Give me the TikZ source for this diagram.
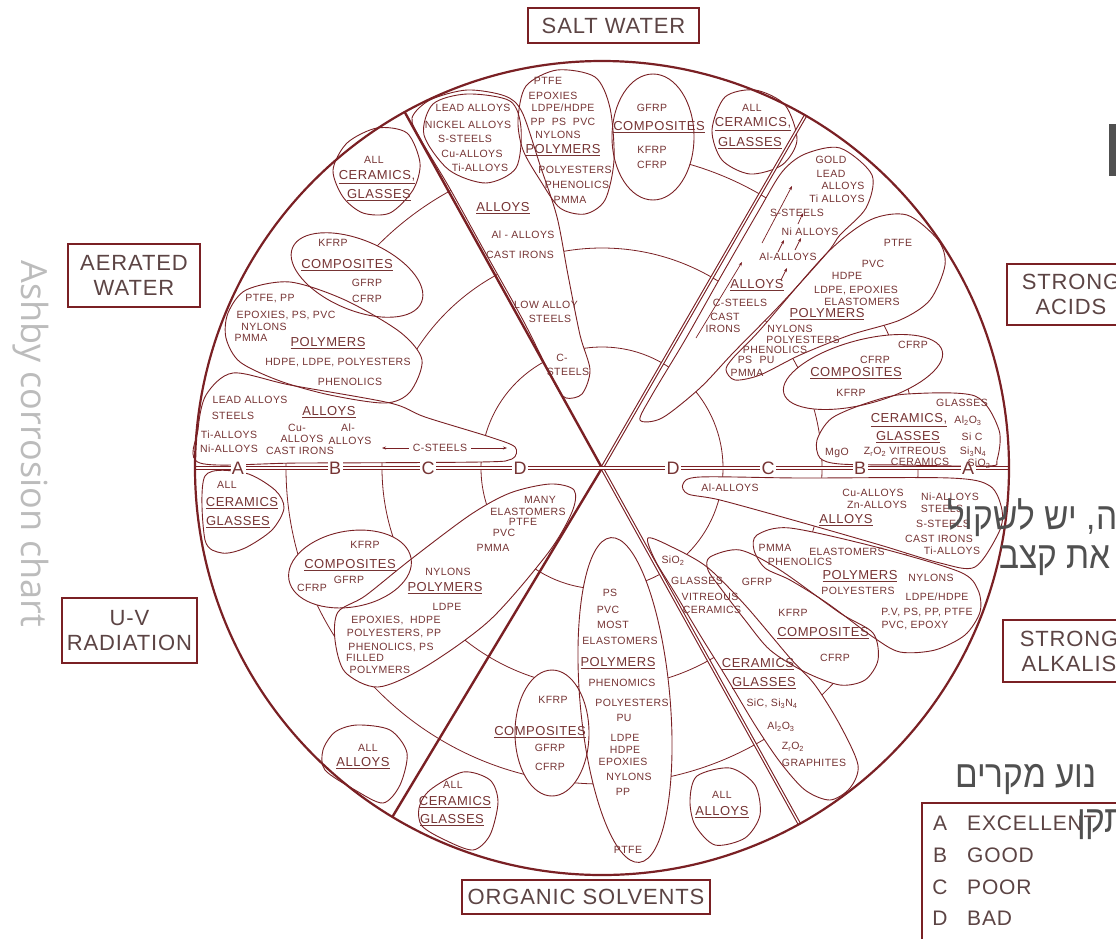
\documentclass[tikz,border=0pt]{standalone}
\usepackage{fontspec}
\setmainfont{Liberation Sans}[LetterSpace=4]
\newfontfamily\hebfont[Script=Hebrew]{Liberation Sans}
\newfontfamily\osans{Open Sans}
\TeXXeTstate=1
\usetikzlibrary{arrows.meta}
\definecolor{ink}{RGB}{122,32,36}
\definecolor{txt}{RGB}{118,52,52}
\definecolor{boxtxt}{RGB}{92,68,68}
\definecolor{hebgray}{RGB}{80,80,80}
\definecolor{sidegray}{RGB}{188,188,188}
\newcommand{\myul}[1]{\underline{#1}}
\newcommand{\sbs}[1]{\textsubscript{#1}}
\newcommand{\hebline}[1]{\scalebox{0.88}[1]{\beginR #1\endR}}
% bubble outlines
\newcommand\bTal{plot[smooth cycle] coordinates {(412,118) (430,100) (467,90) (505,96) (522,112) (540,165) (557,217) (568,275) (580,335) (590,370) (582,394) (566,398) (556,386) (524,322) (485,252) (449,187) (421,140)}}
\newcommand\bTlead{plot[smooth cycle] coordinates {(424,135) (433,104) (467,94) (510,101) (521,128) (516,168) (486,183) (449,170)}}
\newcommand\bTpol{plot[smooth cycle] coordinates {(518,120) (526,86) (557,70) (595,77) (610,108) (614,160) (605,200) (585,214) (560,208) (540,180) (523,150)}}
\newcommand\bTcer{plot[smooth cycle] coordinates {(712,130) (725,97) (755,90) (785,105) (797,140) (782,165) (750,174) (722,160)}}
\newcommand\bULcer{plot[smooth cycle] coordinates {(333,170) (347,143) (377,128) (407,133) (420,163) (413,190) (390,213) (363,213) (343,197)}}
\newcommand\bULpol{plot[smooth cycle] coordinates {(228,313) (246,290) (290,282) (345,300) (400,332) (422,360) (410,392) (385,403) (330,395) (280,381) (240,362) (226,338)}}
\newcommand\bULal{plot[smooth cycle] coordinates {(198,430) (206,395) (233,373) (290,385) (390,403) (425,417) (490,437) (515,447) (512,459) (480,462) (300,463) (200,463)}}
\newcommand\bURal{plot[smooth cycle] coordinates {(640,420) (652,395) (685,340) (720,278) (758,212) (782,172) (805,154) (840,148) (872,175) (866,208) (840,235) (827,253) (780,305) (733,353) (700,388) (662,418)}}
\newcommand\bURpol{plot[smooth cycle] coordinates {(733,358) (760,330) (827,253) (870,220) (907,215) (938,240) (945,265) (930,300) (900,320) (850,335) (800,355) (760,375) (735,380) (726,370)}}
\newcommand\bURcer{plot[smooth cycle] coordinates {(817,440) (832,418) (870,402) (907,394) (975,396) (999,430) (997,460) (988,466) (900,465) (840,464) (820,458)}}
\newcommand\bLRal{plot[smooth cycle] coordinates {(683,484) (700,477) (800,478) (950,478) (990,486) (1002,510) (999,532) (975,567) (940,563) (880,545) (800,522) (720,500) (688,494)}}
\newcommand\bLRpol{plot[smooth cycle] coordinates {(757,535) (790,528) (880,548) (960,572) (978,590) (980,612) (965,635) (935,650) (900,652) (873,637) (827,603) (790,580) (765,568) (754,550)}}
\newcommand\bLRcomp{plot[smooth cycle] coordinates {(710,557) (740,550) (780,570) (840,613) (873,633) (878,660) (865,680) (840,685) (805,672) (770,650) (745,620) (722,590) (708,570)}}
\newcommand\bLRcer{plot[smooth cycle] coordinates {(648,538) (672,547) (707,567) (745,605) (790,658) (815,685) (840,725) (858,765) (850,788) (830,800) (805,790) (780,762) (755,725) (728,680) (700,635) (675,593) (655,560)}}
\newcommand\bBTcer{plot[smooth cycle] coordinates {(430,790) (463,772) (490,780) (498,802) (490,835) (473,850) (445,840) (422,826) (419,808)}}
\newcommand\bBTall{plot[smooth cycle] coordinates {(697,776) (730,768) (755,785) (760,815) (745,838) (715,845) (695,825) (690,800)}}
\newcommand\bLLcer{plot[smooth cycle] coordinates {(205,476) (245,473) (275,490) (284,508) (272,530) (245,548) (222,553) (205,540)}}
\newcommand\bLLpol{plot[smooth cycle] coordinates {(338,612) (365,596) (410,560) (470,515) (510,493) (550,484) (574,490) (572,512) (548,553) (490,620) (425,667) (378,687) (345,672) (335,640)}}
\newcommand\bLLall{plot[smooth cycle] coordinates {(357,725) (390,730) (407,753) (400,785) (383,803) (355,790) (325,770) (323,750) (335,732)}}
\tikzset{
  sm/.style={font=\fontsize{10.5}{11}\selectfont, text=txt, inner sep=0pt},
  grp/.style={font=\fontsize{13}{14}\selectfont, text=txt, inner sep=0pt},
  lab/.style={font=\fontsize{22}{25}\selectfont, text=boxtxt, align=center, inner sep=0pt},
  leg/.style={font=\fontsize{21}{21}\selectfont, text=boxtxt, inner sep=0pt},
  bub/.style={draw=ink, line width=0.9pt},
  ring/.style={draw=ink, line width=0.8pt},
  spoke/.style={draw=ink, line width=2.4pt},
  dspoke/.style={draw=ink, line width=1.1pt, double=white, double distance=1.3pt},
  zone/.style={font=\fontsize{18}{18}\selectfont, text=txt, fill=white, inner sep=1.5pt},
  envbox/.style={draw=ink, line width=1.8pt},
  hebt/.style={font=\hebfont\fontsize{38}{38}\selectfont, text=hebgray, inner sep=0pt, anchor=base west},
  arr/.style={draw=ink, line width=0.7pt, -{Stealth[length=4pt,width=3pt]}},
}
\begin{document}
\begin{tikzpicture}[x=1pt,y=-1pt]
\useasboundingbox (0,0) rectangle (1116,938);
\clip (0,0) rectangle (1116,938);
\fill[white] (0,0) rectangle (1116,938);
\coordinate (C) at (602,468);
% zone rings
\draw[ring] (C) circle [radius=121pt];
\draw[ring] (C) circle [radius=220pt];
\draw[ring] (C) circle [radius=316pt];
% bubble fills
\fill[white] \bTal; \fill[white] \bTpol; \fill[white] \bTcer;
\fill[white] (653,137) ellipse [x radius=41pt, y radius=63pt];
\fill[white] \bULcer; \fill[white] \bULpol; \fill[white] \bULal;
\fill[white, rotate around={-23:(357,275)}] (357,275) ellipse [x radius=70pt, y radius=35pt];
\fill[white] \bURal; \fill[white] \bURpol; \fill[white] \bURcer;
\fill[white, rotate around={15:(863,372)}] (863,372) ellipse [x radius=82pt, y radius=32pt];
\fill[white] \bLRal; \fill[white] \bLRpol; \fill[white] \bLRcomp; \fill[white] \bLRcer;
\fill[white] \bBTcer; \fill[white] \bBTall;
\fill[white] (552,733) ellipse [x radius=37pt, y radius=63pt];
\fill[white, rotate around={5:(625,700)}] (625,700) ellipse [x radius=45pt, y radius=163pt];
\fill[white] \bLLcer; \fill[white] \bLLpol; \fill[white] \bLLall;
\fill[white, rotate around={10:(350,569)}] (350,569) ellipse [x radius=62pt, y radius=38pt];
% bubble outlines
\draw[bub] \bTal; \draw[bub] \bTlead; \draw[bub] \bTpol; \draw[bub] \bTcer;
\draw[bub] (653,137) ellipse [x radius=41pt, y radius=63pt];
\draw[bub] \bULcer; \draw[bub] \bULpol; \draw[bub] \bULal;
\draw[bub, rotate around={-23:(357,275)}] (357,275) ellipse [x radius=70pt, y radius=35pt];
\draw[bub] \bURal; \draw[bub] \bURpol; \draw[bub] \bURcer;
\draw[bub, rotate around={15:(863,372)}] (863,372) ellipse [x radius=82pt, y radius=32pt];
\draw[bub] \bLRal; \draw[bub] \bLRpol; \draw[bub] \bLRcomp; \draw[bub] \bLRcer;
\draw[bub] \bBTcer; \draw[bub] \bBTall;
\draw[bub] (552,733) ellipse [x radius=37pt, y radius=63pt];
\draw[bub, rotate around={5:(625,700)}] (625,700) ellipse [x radius=45pt, y radius=163pt];
\draw[bub] \bLLcer; \draw[bub] \bLLpol; \draw[bub] \bLLall;
\draw[bub, rotate around={10:(350,569)}] (350,569) ellipse [x radius=62pt, y radius=38pt];
% circle and spokes
\path (C) ++(0:407pt) coordinate (s0);
\path (C) ++(60:407pt) coordinate (s60);
\path (C) ++(119:407pt) coordinate (s119);
\path (C) ++(180:407pt) coordinate (s180);
\path (C) ++(239:407pt) coordinate (s239);
\path (C) ++(299:407pt) coordinate (s299);
\draw[spoke] (C) -- (s119);
\draw[spoke] (C) -- (s239);
\draw[dspoke] (C) -- (s60);
\draw[dspoke] (C) -- (s299);
\draw[dspoke] (s180) -- (s0);
\draw[draw=ink, line width=2.2pt] (C) circle [radius=407pt];
% zone letters
\node[zone] (zlA) at (238,468) {A};
\node[zone] (zlB) at (335,468) {B};
\node[zone] (zlC) at (428,468) {C};
\node[zone] (zlD) at (520,468) {D};
\node[zone] (zrD) at (673,468) {D};
\node[zone] (zrC) at (768,468) {C};
\node[zone] (zrB) at (860,468) {B};
\node[zone] (zrA) at (968,468) {A};
% ---- top sector (salt water)
\node[sm] (ts1) at (473,108) {LEAD ALLOYS};
\node[sm] (ts2) at (468,125) {NICKEL ALLOYS};
\node[sm] (ts3) at (465,139) {S-STEELS};
\node[sm] (ts4) at (472,154) {Cu-ALLOYS};
\node[sm] (ts5) at (480,168) {Ti-ALLOYS};
\node[grp] (ts6) at (503,208) {\myul{ALLOYS}};
\node[sm] (ts7) at (523,235) {Al - ALLOYS};
\node[sm] (ts8) at (520,255) {CAST IRONS};
\node[sm] (ts9) at (546,305) {LOW ALLOY};
\node[sm] (ts10) at (550,319) {STEELS};
\node[sm] (ts11) at (562,358) {C-};
\node[sm] (ts12) at (568,372) {STEELS};
\node[sm] (tp1) at (548,81) {PTFE};
\node[sm] (tp2) at (553,96) {EPOXIES};
\node[sm] (tp3) at (563,108) {LDPE/HDPE};
\node[sm] (tp4) at (563,122) {PP\ \ PS\ \ PVC};
\node[sm] (tp5) at (558,135) {NYLONS};
\node[grp] (tp6) at (563,150) {\myul{POLYMERS}};
\node[sm] (tp7) at (575,170) {POLYESTERS};
\node[sm] (tp8) at (577,185) {PHENOLICS};
\node[sm] (tp9) at (570,200) {PMMA};
\node[sm] (tc1) at (652,108) {GFRP};
\node[grp] (tc2) at (659,127) {\myul{COMPOSITES}};
\node[sm] (tc3) at (652,150) {KFRP};
\node[sm] (tc4) at (652,165) {CFRP};
\node[sm] (tg1) at (752,108) {ALL};
\node[grp] (tg2) at (753,124) {\myul{CERAMICS,}};
\node[grp] (tg3) at (750,143) {\myul{GLASSES}};
% ---- upper-left sector (aerated water)
\node[sm] (ug1) at (374,160) {ALL};
\node[grp] (ug2) at (377,177) {\myul{CERAMICS,}};
\node[grp] (ug3) at (379,195) {\myul{GLASSES}};
\node[sm] (uc1) at (333,243) {KFRP};
\node[grp] (uc2) at (347,265) {\myul{COMPOSITES}};
\node[sm] (uc3) at (367,283) {GFRP};
\node[sm] (uc4) at (367,299) {CFRP};
\node[sm] (up1) at (270,299) {PTFE, PP};
\node[sm] (up2) at (286,315) {EPOXIES, PS, PVC};
\node[sm] (up3) at (264,327) {NYLONS};
\node[sm] (up4) at (251,338) {PMMA};
\node[grp] (up5) at (328,343) {\myul{POLYMERS}};
\node[sm] (up6) at (338,362) {HDPE, LDPE, POLYESTERS};
\node[sm] (up7) at (350,382) {PHENOLICS};
\node[sm] (ua1) at (250,400) {LEAD ALLOYS};
\node[sm] (ua2) at (233,416) {STEELS};
\node[grp] (ua3) at (329,412) {\myul{ALLOYS}};
\node[sm] (ua4) at (297,428) {Cu-};
\node[sm] (ua5) at (348,428) {Al-};
\node[sm] (ua6) at (229,435) {Ti-ALLOYS};
\node[sm] (ua7) at (302,439) {ALLOYS};
\node[sm] (ua8) at (350,441) {ALLOYS};
\node[sm] (ua9) at (229,449) {Ni-ALLOYS};
\node[sm] (ua10) at (300,451) {CAST IRONS};
\node[sm, inner xsep=4pt] (ua11) at (440,448) {C-STEELS};
\coordinate (la1) at (382,448);
\coordinate (la2) at (507,448);
\draw[arr] (ua11.west) -- (la1);
\draw[arr] (ua11.east) -- (la2);
% ---- upper-right sector (strong acids)
\node[sm] (ra1) at (831,160) {GOLD};
\node[sm] (ra2) at (831,174) {LEAD};
\node[sm] (ra3) at (843,186) {ALLOYS};
\node[sm] (ra4) at (837,199) {Ti ALLOYS};
\node[sm] (ra5) at (797,213) {S-STEELS};
\node[sm] (ra6) at (810,232) {Ni ALLOYS};
\node[sm] (ra7) at (788,257) {Al-ALLOYS};
\node[grp] (ra8) at (757,285) {\myul{ALLOYS}};
\node[sm] (ra9) at (740,303) {C-STEELS};
\node[sm] (ra10) at (725,317) {CAST};
\node[sm] (ra11) at (723,329) {IRONS};
\coordinate (rq1) at (696,338); \coordinate (rq2) at (742,262);
\coordinate (rq3) at (762,243); \coordinate (rq4) at (792,186);
\coordinate (rq5) at (778,252); \coordinate (rq6) at (784,240);
\coordinate (rq7) at (795,250); \coordinate (rq8) at (801,238);
\coordinate (rq9) at (781,280); \coordinate (rq10) at (787,268);
\coordinate (rq11) at (798,224); \coordinate (rq12) at (803,213);
\draw[arr] (rq1) -- (rq2);
\draw[arr] (rq3) -- (rq4);
\draw[arr] (rq5) -- (rq6);
\draw[arr] (rq7) -- (rq8);
\draw[arr] (rq9) -- (rq10);
\draw[arr] (rq11) -- (rq12);
\node[sm] (rp1) at (898,243) {PTFE};
\node[sm] (rp2) at (873,264) {PVC};
\node[sm] (rp3) at (847,276) {HDPE};
\node[sm] (rp4) at (856,290) {LDPE, EPOXIES};
\node[sm] (rp5) at (862,302) {ELASTOMERS};
\node[grp] (rp6) at (827,314) {\myul{POLYMERS}};
\node[sm] (rp7) at (790,329) {NYLONS};
\node[sm] (rp8) at (803,340) {POLYESTERS};
\node[sm] (rp9) at (775,350) {PHENOLICS};
\node[sm] (rp10) at (745,360) {PS};
\node[sm] (rp11) at (767,360) {PU};
\node[sm] (rp12) at (747,373) {PMMA};
\node[sm] (rc1) at (913,345) {CFRP};
\node[sm] (rc2) at (875,360) {CFRP};
\node[grp] (rc3) at (856,373) {\myul{COMPOSITES}};
\node[sm] (rc4) at (851,393) {KFRP};
\node[sm] (rg1) at (962,403) {GLASSES};
\node[grp] (rg2) at (909,420) {\myul{CERAMICS,}};
\node[sm] (rg3) at (968,421) {Al\sbs{2}O\sbs{3}};
\node[grp] (rg4) at (908,437) {\myul{GLASSES}};
\node[sm] (rg5) at (972,437) {Si C};
\node[sm] (rg6) at (837,453) {MgO};
\node[sm] (rg7) at (905,452) {Z\sbs{r}O\sbs{2} VITREOUS};
\node[sm] (rg8) at (920,462) {CERAMICS};
\node[sm] (rg9) at (973,452) {Si\sbs{3}N\sbs{4}};
\node[sm] (rg10) at (979,464) {SiO\sbs{2}};
% ---- lower-right sector (strong alkalis)
\node[sm] (la1t) at (730,488) {Al-ALLOYS};
\node[sm] (la2t) at (873,493) {Cu-ALLOYS};
\node[sm] (la3t) at (950,497) {Ni-ALLOYS};
\node[sm] (la4t) at (877,505) {Zn-ALLOYS};
\node[sm] (la5t) at (942,509) {STEELS};
\node[grp] (la6t) at (846,520) {\myul{ALLOYS}};
\node[sm] (la7t) at (943,524) {S-STEELS};
\node[sm] (la8t) at (939,539) {CAST IRONS};
\node[sm] (la9t) at (952,551) {Ti-ALLOYS};
\node[sm] (lp1) at (775,548) {PMMA};
\node[sm] (lp2) at (847,552) {ELASTOMERS};
\node[sm] (lp3) at (800,562) {PHENOLICS};
\node[grp] (lp4) at (860,576) {\myul{POLYMERS}};
\node[sm] (lp5) at (931,578) {NYLONS};
\node[sm] (lp6) at (858,591) {POLYESTERS};
\node[sm] (lp7) at (937,597) {LDPE/HDPE};
\node[sm] (lp8) at (927,612) {P.V, PS, PP, PTFE};
\node[sm] (lp9) at (915,625) {PVC, EPOXY};
\node[sm] (lc1) at (757,582) {GFRP};
\node[sm] (lc2) at (793,613) {KFRP};
\node[grp] (lc3) at (823,633) {\myul{COMPOSITES}};
\node[sm] (lc4) at (835,658) {CFRP};
\node[sm] (lg1) at (673,561) {SiO\sbs{2}};
\node[sm] (lg2) at (697,581) {GLASSES};
\node[sm] (lg3) at (710,597) {VITREOUS};
\node[sm] (lg4) at (712,610) {CERAMICS};
\node[grp] (lg5) at (758,664) {\myul{CERAMICS}};
\node[grp] (lg6) at (764,683) {\myul{GLASSES}};
\node[sm] (lg7) at (772,704) {SiC, Si\sbs{3}N\sbs{4}};
\node[sm] (lg8) at (781,727) {Al\sbs{2}O\sbs{3}};
\node[sm] (lg9) at (793,747) {Z\sbs{r}O\sbs{2}};
\node[sm] (lg10) at (814,763) {GRAPHITES};
% ---- bottom sector (organic solvents)
\node[sm] (bl1) at (722,795) {ALL};
\node[grp] (bl2) at (722,812) {\myul{ALLOYS}};
\node[sm] (bp1) at (610,593) {PS};
\node[sm] (bp2) at (608,610) {PVC};
\node[sm] (bp3) at (613,625) {MOST};
\node[sm] (bp4) at (620,641) {ELASTOMERS};
\node[grp] (bp5) at (618,663) {\myul{POLYMERS}};
\node[sm] (bp6) at (622,683) {PHENOMICS};
\node[sm] (bp7) at (632,703) {POLYESTERS};
\node[sm] (bp8) at (624,718) {PU};
\node[sm] (bp9) at (625,738) {LDPE};
\node[sm] (bp10) at (625,750) {HDPE};
\node[sm] (bp11) at (623,762) {EPOXIES};
\node[sm] (bp12) at (629,777) {NYLONS};
\node[sm] (bp13) at (623,792) {PP};
\node[sm] (bp14) at (628,850) {PTFE};
\node[sm] (bc1) at (553,700) {KFRP};
\node[grp] (bc2) at (540,732) {\myul{COMPOSITES}};
\node[sm] (bc3) at (550,748) {GFRP};
\node[sm] (bc4) at (550,767) {CFRP};
\node[sm] (bg1) at (453,785) {ALL};
\node[grp] (bg2) at (455,802) {\myul{CERAMICS}};
\node[grp] (bg3) at (452,820) {\myul{GLASSES}};
% ---- lower-left sector (u-v radiation)
\node[sm] (vg1) at (227,485) {ALL};
\node[grp] (vg2) at (242,503) {\myul{CERAMICS}};
\node[grp] (vg3) at (238,522) {\myul{GLASSES}};
\node[sm] (vc1) at (365,545) {KFRP};
\node[grp] (vc2) at (350,565) {\myul{COMPOSITES}};
\node[sm] (vc3) at (349,580) {GFRP};
\node[sm] (vc4) at (312,588) {CFRP};
\node[sm] (vp1) at (540,500) {MANY};
\node[sm] (vp2) at (528,512) {ELASTOMERS};
\node[sm] (vp3) at (523,522) {PTFE};
\node[sm] (vp4) at (504,533) {PVC};
\node[sm] (vp5) at (493,548) {PMMA};
\node[sm] (vp6) at (448,572) {NYLONS};
\node[grp] (vp7) at (445,588) {\myul{POLYMERS}};
\node[sm] (vp8) at (447,607) {LDPE};
\node[sm] (vp9) at (396,620) {EPOXIES,\ \ HDPE};
\node[sm] (vp10) at (394,633) {POLYESTERS, PP};
\node[sm] (vp11) at (391,647) {PHENOLICS, PS};
\node[sm] (vp12) at (365,658) {FILLED};
\node[sm] (vp13) at (380,670) {POLYMERS};
\node[sm] (vl1) at (368,748) {ALL};
\node[grp] (vl2) at (363,763) {\myul{ALLOYS}};
% ---- environment boxes
\node[envbox, lab, minimum width=171pt, minimum height=35pt] (salt) at (613.5,25.5) {SALT WATER};
\node[envbox, lab, minimum width=132pt, minimum height=63pt] (aer) at (134,275.5) {AERATED\\WATER};
\node[envbox, lab, minimum width=128pt, minimum height=61pt] (acid) at (1071,294.5) {STRONG\\ACIDS};
\node[envbox, lab, minimum width=132pt, minimum height=62pt] (alk) at (1069,651) {STRONG\\ALKALIS};
\node[envbox, lab, minimum width=135pt, minimum height=65pt] (uvr) at (129.5,630.5) {U-V\\RADIATION};
\node[envbox, lab, minimum width=248pt, minimum height=34pt] (org) at (586,897) {ORGANIC SOLVENTS};
% ---- legend
\coordinate (lgtr) at (1130,803);
\coordinate (lgbl) at (922,950);
\draw[envbox] (lgtr) -| (lgbl);
\node[leg] (lgA) at (940,823) {A};
\node[leg, anchor=west] (lgAt) at (967,823) {EXCELLENT};
\node[leg] (lgB) at (940,855) {B};
\node[leg, anchor=west] (lgBt) at (967,855) {GOOD};
\node[leg] (lgC) at (940,887) {C};
\node[leg, anchor=west] (lgCt) at (967,887) {POOR};
\node[leg] (lgD) at (940,918) {D};
\node[leg, anchor=west] (lgDt) at (967,918) {BAD};
% ---- overlay texts
\fill[hebgray] (1109,124) rectangle (1116,176);
\node[hebt] (h1) at (947,529) {\hebline{ה, יש לשקול}};
\node[hebt] (h2) at (999,568) {\hebline{את קצב}};
\node[hebt] (h3) at (955,787) {\hebline{נוע מקרים}};
\node[hebt] (h4) at (1077,832) {\hebline{תקן}};
\node[font=\osans\fontsize{36}{36}\selectfont, text=sidegray, rotate=-90, inner sep=0pt] (side) at (31,444) {Ashby corrosion chart};
\end{tikzpicture}
\end{document}
